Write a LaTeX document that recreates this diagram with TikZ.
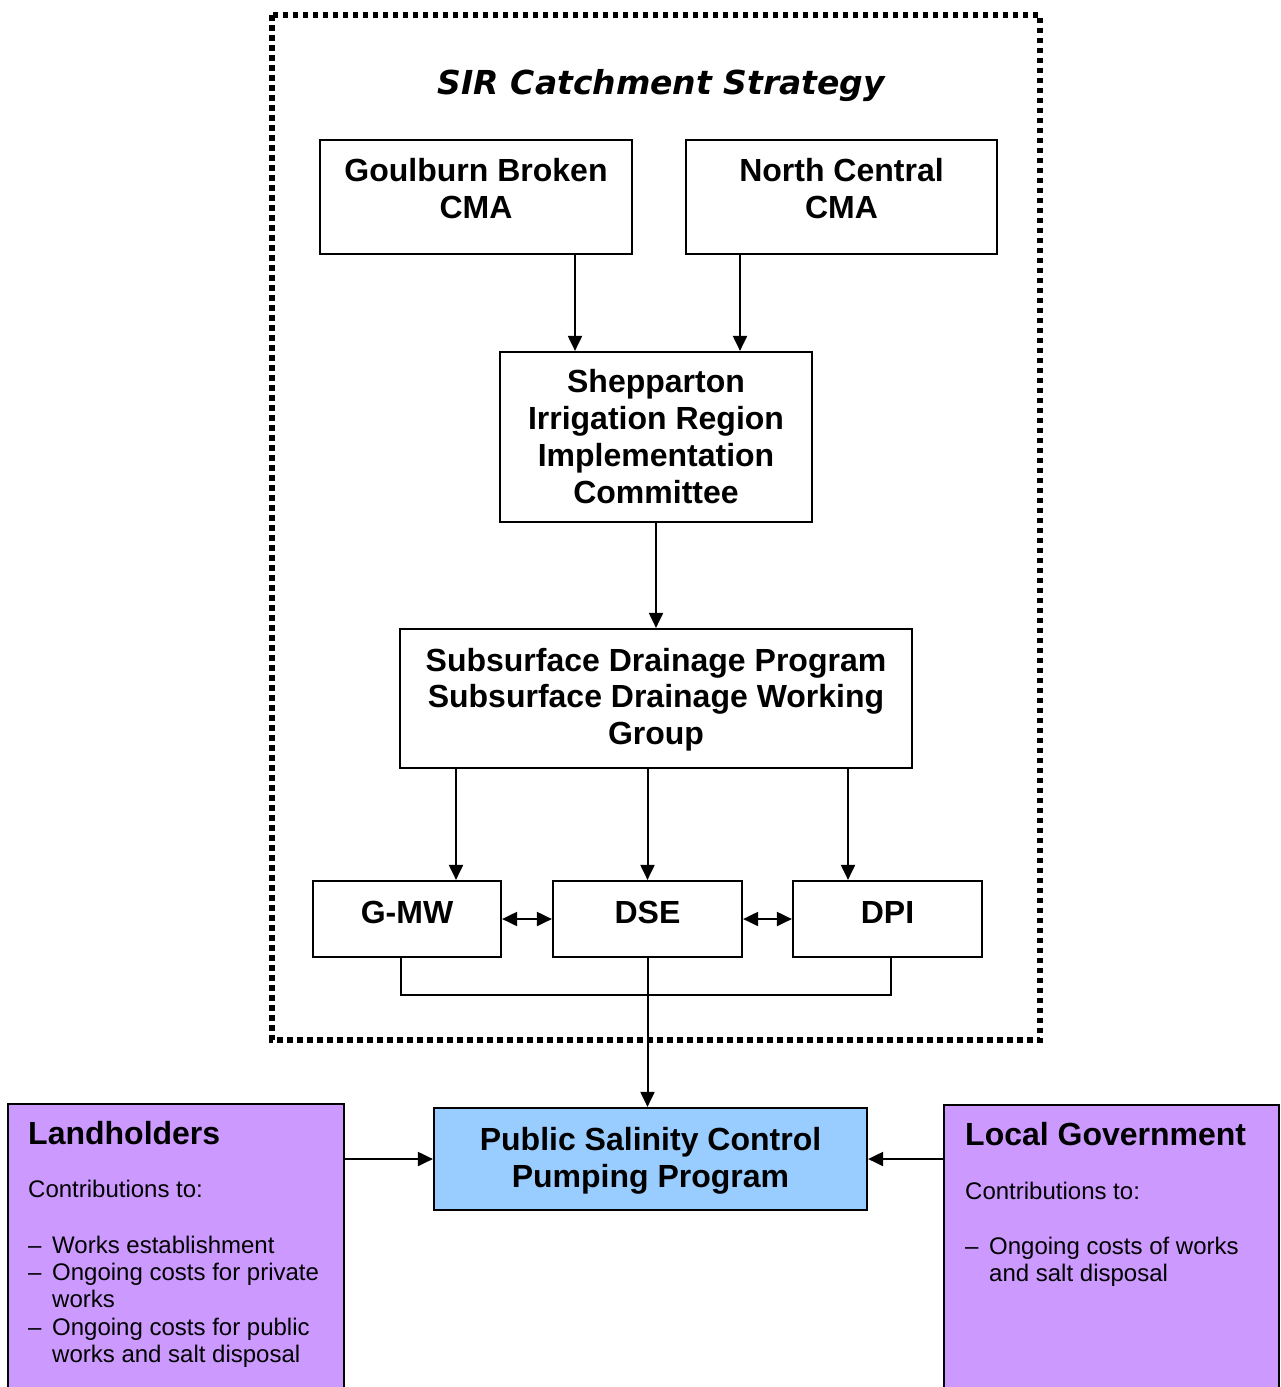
\documentclass[tikz,border=0pt]{standalone}
\usepackage{fontspec}
\setmainfont{Liberation Sans}
\newfontfamily\titlefont{DejaVu Sans}
\usetikzlibrary{arrows.meta}
\definecolor{lilac}{HTML}{CC99FF}
\definecolor{skyblue}{HTML}{99CCFF}
\tikzset{
  boxstyle/.style={draw=black, line width=2.2pt, inner sep=0pt, fill=white},
  btext/.style={inner sep=0pt, anchor=base, align=center, font=\bfseries\fontsize{32}{37}\selectfont},
  htext/.style={inner sep=0pt, anchor=base west, align=left, font=\bfseries\fontsize{32}{37}\selectfont},
  rtext/.style={inner sep=0pt, anchor=base west, align=left, font=\fontsize{24}{27.3}\selectfont},
  arr/.style={line width=2pt, -{Triangle[length=15pt,width=14pt]}},
  darr/.style={line width=2pt, {Triangle[length=15pt,width=14pt]}-{Triangle[length=15pt,width=14pt]}},
  plain/.style={line width=2pt},
}
\newcommand{\dashitem}{\makebox[24pt][l]{–}}
\begin{document}
\begin{tikzpicture}[x=1pt,y=-1pt]
\clip (0,0) rectangle (1281,1387);
\fill[white] (0,0) rectangle (1281,1387);

% dotted frame
\draw[line width=5.5pt, dash pattern=on 5.5pt off 4.5pt] (272,15) rectangle (1040,1040);

% title
\node[inner sep=0pt, anchor=base] (title) at (661.5,94)
  {\titlefont\bfseries\itshape\fontsize{33}{38}\selectfont SIR Catchment Strategy};

% boxes (multi-line text nodes are placed by the baseline of their last line)
\node[boxstyle, minimum width=312pt, minimum height=114pt] (gb) at (476,197) {};
\node[btext] (gbt) at (476,218.7) {Goulburn Broken\\CMA};
\node[boxstyle, minimum width=311pt, minimum height=114pt] (nc) at (841.5,197) {};
\node[btext] (nct) at (841.5,218.7) {North Central\\CMA};

\node[boxstyle, minimum width=312pt, minimum height=170pt] (siric) at (656,437) {};
\node[btext] (sirict) at (656,503.3) {Shepparton\\Irrigation Region\\Implementation\\Committee};

\node[boxstyle, minimum width=512pt, minimum height=139pt] (sdp) at (656,698.5) {};
\node[btext, font=\bfseries\fontsize{32}{36.5}\selectfont] (sdpt) at (656,744) {Subsurface Drainage Program\\Subsurface Drainage Working\\Group};

\node[boxstyle, minimum width=188pt, minimum height=76pt] (gmw) at (407,919) {};
\node[btext] (gmwt) at (407,923) {G-MW};
\node[boxstyle, minimum width=189pt, minimum height=76pt] (dse) at (647.5,919) {};
\node[btext] (dset) at (647.5,923) {DSE};
\node[boxstyle, minimum width=189pt, minimum height=76pt] (dpi) at (887.5,919) {};
\node[btext] (dpit) at (887.5,923) {DPI};

\node[boxstyle, fill=skyblue, minimum width=433pt, minimum height=102pt] (psc) at (650.5,1159) {};
\node[btext] (psct) at (650.5,1187) {Public Salinity Control\\Pumping Program};

\node[boxstyle, fill=lilac, minimum width=336pt, minimum height=300pt] (lh) at (176,1254) {};
\node[htext] (lhh) at (28,1144.5) {Landholders};
\node[rtext] (lhc) at (28,1197.5) {Contributions to:};
\node[rtext] (lhl) at (28,1362.3) {\dashitem Works establishment\\
  \dashitem Ongoing costs for private\\
  \hspace*{24pt}works\\
  \dashitem Ongoing costs for public\\
  \hspace*{24pt}works and salt disposal};

\node[boxstyle, fill=lilac, minimum width=335pt, minimum height=300pt] (lg) at (1111.5,1255) {};
\node[htext] (lgh) at (965,1145) {Local Government};
\node[rtext] (lgc) at (965,1199.5) {Contributions to:};
\node[rtext] (lgl) at (965,1281.7) {\dashitem Ongoing costs of works\\
  \hspace*{24pt}and salt disposal};

% connectors
\draw[arr] ([xshift=99pt]gb.south) -- ([xshift=99pt]gb.south |- siric.north);
\draw[arr] ([xshift=-101.5pt]nc.south) -- ([xshift=-101.5pt]nc.south |- siric.north);
\draw[arr] (siric.south) -- (siric.south |- sdp.north);
\draw[arr] ([xshift=49pt]gmw.north |- sdp.south) -- ([xshift=49pt]gmw.north);
\draw[arr] (dse.north |- sdp.south) -- (dse.north);
\draw[arr] ([xshift=-39.5pt]dpi.north |- sdp.south) -- ([xshift=-39.5pt]dpi.north);
\draw[darr] (gmw.east) -- (dse.west);
\draw[darr] (dse.east) -- (dpi.west);
\coordinate (bus) at (648,995);
\draw[plain] ([xshift=-6pt]gmw.south) |- (bus) -| ([xshift=3.5pt]dpi.south);
\draw[arr] (dse.south) -- (dse.south |- psc.north);
\draw[arr] (psc.west -| lh.east) -- (psc.west);
\draw[arr] (psc.east -| lg.west) -- (psc.east);
\end{tikzpicture}
\end{document}
